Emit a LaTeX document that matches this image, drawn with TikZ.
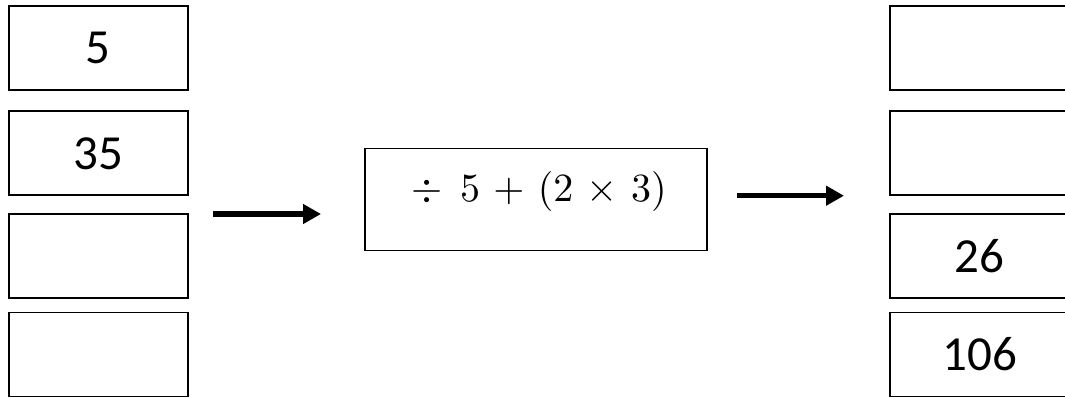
\documentclass[tikz,border=0pt]{standalone}
\usepackage{fontspec}
\setmainfont{Carlito}
\usetikzlibrary{arrows.meta}
\tikzset{
  numbox/.style={draw=black, line width=1.6pt, minimum width=179pt, minimum height=84pt, inner sep=0pt, font=\fontsize{49}{49}\selectfont},
  opbox/.style={draw=black, line width=1.6pt, minimum width=342pt, minimum height=102pt, inner sep=0pt},
  optext/.style={inner sep=0pt, scale=4.0},
  fatarrow/.style={line width=5pt, -{Triangle[length=18pt,width=19pt]}}
}
\begin{document}
\begin{tikzpicture}[x=1pt,y=-1pt]
\useasboundingbox (0,0) rectangle (1065,398);
\clip (0,0) rectangle (1065,398);
% left column
\node[numbox] (l1) at (98.3,48) {5};
\node[numbox] (l2) at (98.3,153.3) {35};
\node[numbox] (l3) at (98.3,256) {};
\node[numbox] (l4) at (98.3,354.3) {};
% middle
\node[opbox] (op) at (536,199.5) {};
\node[optext] (optext) at (539,192) {$\medmuskip=6mu\div\mkern8mu 5+(2\times 3)$};
% right column
\node[numbox] (r1) at (979.6,48) {};
\node[numbox] (r2) at (979.6,153.3) {};
\node[numbox] (r3) at (979.6,256) {26};
\node[numbox] (r4) at (979.6,354.3) {106};
% arrows
\coordinate (a1s) at (213,214);
\coordinate (a1e) at (321,214);
\coordinate (a2s) at (737,195.7);
\coordinate (a2e) at (844,195.7);
\draw[fatarrow] (a1s) -- (a1e);
\draw[fatarrow] (a2s) -- (a2e);
\end{tikzpicture}
\end{document}
